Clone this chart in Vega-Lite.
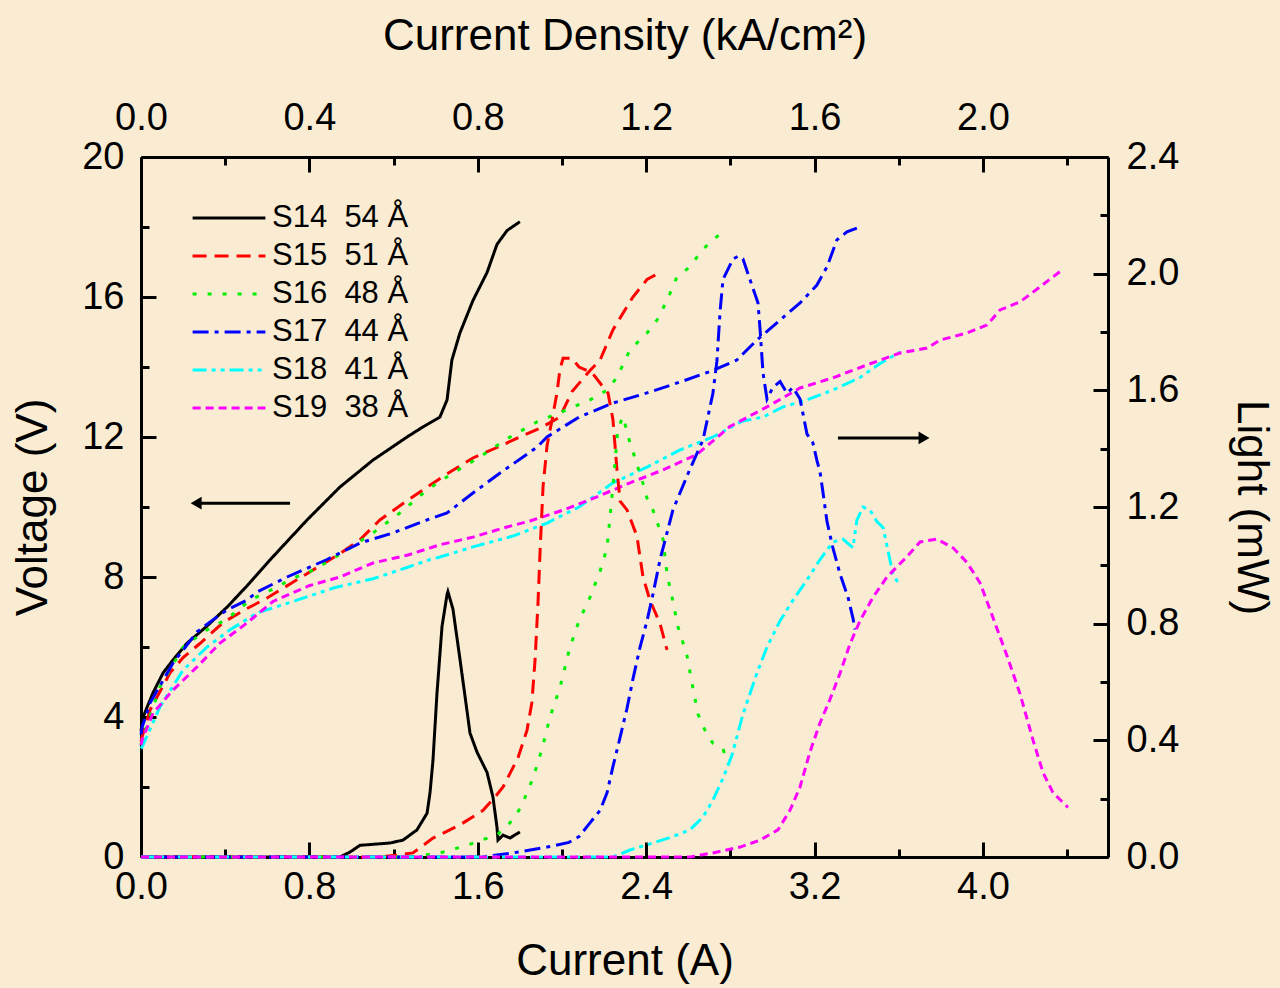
{
  "$schema": "https://vega.github.io/schema/vega-lite/v6.json",
  "width": 967,
  "height": 700,
  "autosize": {"type": "none"},
  "padding": {"left": 141, "top": 157, "right": 172, "bottom": 131},
  "background": "#f9ecd3",
  "config": {
    "view": {"stroke": null},
    "font": "Liberation Sans",
    "axis": {
      "domainColor": "black", "domainWidth": 3, "tickColor": "black", "tickWidth": 3,
      "grid": false, "labelFont": "Liberation Sans", "labelFontSize": 38, "labelColor": "black",
      "titleFont": "Liberation Sans", "titleFontSize": 44, "titleFontWeight": "normal", "titleColor": "black",
      "labelFlush": false, "labelOverlap": false, "labelBound": false
    }
  },
  "datasets": {
    "samples": [
      {"s": "S14", "label": "S14\u00a0\u00a054\u00a0Å"},
      {"s": "S15", "label": "S15\u00a0\u00a051\u00a0Å"},
      {"s": "S16", "label": "S16\u00a0\u00a048\u00a0Å"},
      {"s": "S17", "label": "S17\u00a0\u00a044\u00a0Å"},
      {"s": "S18", "label": "S18\u00a0\u00a041\u00a0Å"},
      {"s": "S19", "label": "S19\u00a0\u00a038\u00a0Å"}
    ],
    "voltage": [
      {"s":"S14","I":0,"V":3.6},{"s":"S14","I":0.01,"V":4.0},{"s":"S14","I":0.057,"V":4.69},{"s":"S14","I":0.105,"V":5.26},{"s":"S14","I":0.152,"V":5.63},{"s":"S14","I":0.219,"V":6.11},{"s":"S14","I":0.314,"V":6.6},{"s":"S14","I":0.409,"V":7.14},{"s":"S14","I":0.504,"V":7.75},{"s":"S14","I":0.627,"V":8.58},{"s":"S14","I":0.789,"V":9.63},{"s":"S14","I":0.945,"V":10.57},{"s":"S14","I":1.102,"V":11.34},{"s":"S14","I":1.264,"V":12.0},{"s":"S14","I":1.34,"V":12.29},{"s":"S14","I":1.42,"V":12.57},{"s":"S14","I":1.454,"V":13.06},{"s":"S14","I":1.477,"V":14.2},{"s":"S14","I":1.515,"V":14.97},{"s":"S14","I":1.577,"V":15.9},{"s":"S14","I":1.644,"V":16.7},{"s":"S14","I":1.691,"V":17.5},{"s":"S14","I":1.739,"V":17.9},{"s":"S14","I":1.8,"V":18.15},
      {"s":"S15","I":0,"V":3.3},{"s":"S15","I":0.005,"V":3.43},{"s":"S15","I":0.043,"V":4.2},{"s":"S15","I":0.138,"V":5.26},{"s":"S15","I":0.2,"V":5.7},{"s":"S15","I":0.28,"V":6.1},{"s":"S15","I":0.39,"V":6.7},{"s":"S15","I":0.504,"V":7.1},{"s":"S15","I":0.599,"V":7.4},{"s":"S15","I":0.708,"V":7.8},{"s":"S15","I":0.817,"V":8.2},{"s":"S15","I":0.945,"V":8.67},{"s":"S15","I":1.04,"V":9.06},{"s":"S15","I":1.135,"V":9.63},{"s":"S15","I":1.245,"V":10.1},{"s":"S15","I":1.359,"V":10.57},{"s":"S15","I":1.468,"V":11.0},{"s":"S15","I":1.577,"V":11.4},{"s":"S15","I":1.691,"V":11.7},{"s":"S15","I":1.8,"V":12.0},{"s":"S15","I":1.895,"V":12.25},{"s":"S15","I":1.99,"V":12.57},{"s":"S15","I":2.048,"V":13.3},{"s":"S15","I":2.133,"V":13.9},{"s":"S15","I":2.181,"V":14.2},{"s":"S15","I":2.242,"V":15.06},{"s":"S15","I":2.276,"V":15.4},{"s":"S15","I":2.337,"V":16.0},{"s":"S15","I":2.404,"V":16.5},{"s":"S15","I":2.466,"V":16.7},
      {"s":"S16","I":0,"V":3.2},{"s":"S16","I":0.005,"V":3.34},{"s":"S16","I":0.09,"V":4.86},{"s":"S16","I":0.2,"V":6.0},{"s":"S16","I":0.314,"V":6.49},{"s":"S16","I":0.409,"V":6.8},{"s":"S16","I":0.518,"V":7.34},{"s":"S16","I":0.646,"V":7.71},{"s":"S16","I":0.722,"V":7.97},{"s":"S16","I":0.789,"V":8.11},{"s":"S16","I":0.884,"V":8.43},{"s":"S16","I":0.979,"V":8.77},{"s":"S16","I":1.102,"V":9.26},{"s":"S16","I":1.23,"V":9.83},{"s":"S16","I":1.359,"V":10.49},{"s":"S16","I":1.482,"V":10.97},{"s":"S16","I":1.61,"V":11.43},{"s":"S16","I":1.739,"V":11.95},{"s":"S16","I":1.881,"V":12.43},{"s":"S16","I":2.019,"V":12.77},{"s":"S16","I":2.133,"V":13.06},{"s":"S16","I":2.214,"V":13.34},{"s":"S16","I":2.261,"V":13.7},{"s":"S16","I":2.323,"V":14.49},{"s":"S16","I":2.404,"V":14.97},{"s":"S16","I":2.451,"V":15.34},{"s":"S16","I":2.499,"V":15.9},{"s":"S16","I":2.546,"V":16.57},{"s":"S16","I":2.608,"V":16.86},{"s":"S16","I":2.656,"V":17.26},{"s":"S16","I":2.703,"V":17.57},{"s":"S16","I":2.765,"V":17.86},
      {"s":"S17","I":0,"V":3.5},{"s":"S17","I":0.005,"V":3.7},{"s":"S17","I":0.043,"V":4.4},{"s":"S17","I":0.152,"V":5.54},{"s":"S17","I":0.266,"V":6.43},{"s":"S17","I":0.361,"V":6.86},{"s":"S17","I":0.409,"V":7.06},{"s":"S17","I":0.504,"V":7.34},{"s":"S17","I":0.551,"V":7.57},{"s":"S17","I":0.694,"V":8.0},{"s":"S17","I":0.884,"V":8.5},{"s":"S17","I":1.04,"V":8.97},{"s":"S17","I":1.197,"V":9.26},{"s":"S17","I":1.359,"V":9.63},{"s":"S17","I":1.454,"V":9.83},{"s":"S17","I":1.577,"V":10.4},{"s":"S17","I":1.706,"V":10.97},{"s":"S17","I":1.815,"V":11.43},{"s":"S17","I":1.881,"V":11.71},{"s":"S17","I":1.929,"V":12.0},{"s":"S17","I":2.081,"V":12.57},{"s":"S17","I":2.242,"V":12.97},{"s":"S17","I":2.404,"V":13.26},{"s":"S17","I":2.561,"V":13.57},{"s":"S17","I":2.717,"V":13.9},{"s":"S17","I":2.831,"V":14.2},{"s":"S17","I":2.926,"V":14.77},{"s":"S17","I":3.036,"V":15.34},{"s":"S17","I":3.131,"V":15.83},{"s":"S17","I":3.211,"V":16.34},{"s":"S17","I":3.259,"V":16.86},{"s":"S17","I":3.306,"V":17.63},{"s":"S17","I":3.354,"V":17.86},{"s":"S17","I":3.401,"V":17.97},
      {"s":"S18","I":0,"V":3.1},{"s":"S18","I":0.005,"V":3.14},{"s":"S18","I":0.09,"V":4.29},{"s":"S18","I":0.2,"V":5.34},{"s":"S18","I":0.314,"V":6.0},{"s":"S18","I":0.423,"V":6.49},{"s":"S18","I":0.551,"V":6.97},{"s":"S18","I":0.722,"V":7.3},{"s":"S18","I":0.922,"V":7.7},{"s":"S18","I":1.102,"V":7.95},{"s":"S18","I":1.264,"V":8.27},{"s":"S18","I":1.373,"V":8.5},{"s":"S18","I":1.42,"V":8.57},{"s":"S18","I":1.577,"V":8.86},{"s":"S18","I":1.767,"V":9.17},{"s":"S18","I":1.929,"V":9.54},{"s":"S18","I":2.081,"V":10.0},{"s":"S18","I":2.242,"V":10.69},{"s":"S18","I":2.404,"V":11.14},{"s":"S18","I":2.561,"V":11.63},{"s":"S18","I":2.717,"V":12.0},{"s":"S18","I":2.855,"V":12.45},{"s":"S18","I":2.955,"V":12.57},{"s":"S18","I":3.05,"V":12.86},{"s":"S18","I":3.164,"V":13.06},{"s":"S18","I":3.287,"V":13.34},{"s":"S18","I":3.416,"V":13.7},{"s":"S18","I":3.511,"V":14.1},{"s":"S18","I":3.606,"V":14.43},
      {"s":"S19","I":0,"V":3.2},{"s":"S19","I":0.005,"V":3.34},{"s":"S19","I":0.057,"V":4.11},{"s":"S19","I":0.152,"V":4.77},{"s":"S19","I":0.266,"V":5.43},{"s":"S19","I":0.375,"V":6.11},{"s":"S19","I":0.504,"V":6.69},{"s":"S19","I":0.627,"V":7.3},{"s":"S19","I":0.798,"V":7.75},{"s":"S19","I":0.945,"V":8.0},{"s":"S19","I":1.102,"V":8.4},{"s":"S19","I":1.264,"V":8.62},{"s":"S19","I":1.42,"V":8.92},{"s":"S19","I":1.577,"V":9.14},{"s":"S19","I":1.739,"V":9.43},{"s":"S19","I":1.848,"V":9.6},{"s":"S19","I":2.005,"V":9.91},{"s":"S19","I":2.166,"V":10.29},{"s":"S19","I":2.323,"V":10.69},{"s":"S19","I":2.48,"V":11.06},{"s":"S19","I":2.641,"V":11.5},{"s":"S19","I":2.798,"V":12.3},{"s":"S19","I":2.974,"V":12.86},{"s":"S19","I":3.131,"V":13.4},{"s":"S19","I":3.287,"V":13.69},{"s":"S19","I":3.449,"V":14.06},{"s":"S19","I":3.606,"V":14.4},{"s":"S19","I":3.734,"V":14.54},{"s":"S19","I":3.796,"V":14.77},{"s":"S19","I":3.924,"V":14.97},{"s":"S19","I":4.019,"V":15.2},{"s":"S19","I":4.081,"V":15.63},{"s":"S19","I":4.176,"V":15.86},{"s":"S19","I":4.271,"V":16.29},{"s":"S19","I":4.375,"V":16.77}
    ],
    "light": [
      {"s":"S14","I":0,"L":0},{"s":"S14","I":0.945,"L":0},{"s":"S14","I":0.993,"L":0.017},{"s":"S14","I":1.04,"L":0.04},{"s":"S14","I":1.183,"L":0.048},{"s":"S14","I":1.245,"L":0.058},{"s":"S14","I":1.311,"L":0.093},{"s":"S14","I":1.359,"L":0.15},{"s":"S14","I":1.373,"L":0.22},{"s":"S14","I":1.387,"L":0.33},{"s":"S14","I":1.406,"L":0.56},{"s":"S14","I":1.43,"L":0.79},{"s":"S14","I":1.454,"L":0.9},{"s":"S14","I":1.458,"L":0.91},{"s":"S14","I":1.482,"L":0.85},{"s":"S14","I":1.515,"L":0.68},{"s":"S14","I":1.549,"L":0.5},{"s":"S14","I":1.563,"L":0.425},{"s":"S14","I":1.596,"L":0.36},{"s":"S14","I":1.644,"L":0.29},{"s":"S14","I":1.672,"L":0.206},{"s":"S14","I":1.691,"L":0.103},{"s":"S14","I":1.696,"L":0.058},{"s":"S14","I":1.72,"L":0.075},{"s":"S14","I":1.753,"L":0.065},{"s":"S14","I":1.8,"L":0.086},
      {"s":"S15","I":0,"L":0},{"s":"S15","I":1.135,"L":0},{"s":"S15","I":1.292,"L":0.014},{"s":"S15","I":1.387,"L":0.065},{"s":"S15","I":1.515,"L":0.11},{"s":"S15","I":1.625,"L":0.16},{"s":"S15","I":1.682,"L":0.206},{"s":"S15","I":1.72,"L":0.24},{"s":"S15","I":1.791,"L":0.34},{"s":"S15","I":1.834,"L":0.435},{"s":"S15","I":1.857,"L":0.53},{"s":"S15","I":1.872,"L":0.675},{"s":"S15","I":1.886,"L":0.87},{"s":"S15","I":1.896,"L":1.05},{"s":"S15","I":1.91,"L":1.27},{"s":"S15","I":1.929,"L":1.41},{"s":"S15","I":1.953,"L":1.5},{"s":"S15","I":1.976,"L":1.59},{"s":"S15","I":1.99,"L":1.67},{"s":"S15","I":2.005,"L":1.71},{"s":"S15","I":2.048,"L":1.71},{"s":"S15","I":2.081,"L":1.68},{"s":"S15","I":2.143,"L":1.66},{"s":"S15","I":2.219,"L":1.59},{"s":"S15","I":2.242,"L":1.5},{"s":"S15","I":2.261,"L":1.33},{"s":"S15","I":2.276,"L":1.22},{"s":"S15","I":2.309,"L":1.19},{"s":"S15","I":2.356,"L":1.1},{"s":"S15","I":2.385,"L":0.96},{"s":"S15","I":2.418,"L":0.88},{"s":"S15","I":2.466,"L":0.8},{"s":"S15","I":2.499,"L":0.71},
      {"s":"S16","I":0,"L":0},{"s":"S16","I":1.283,"L":0},{"s":"S16","I":1.42,"L":0.014},{"s":"S16","I":1.549,"L":0.04},{"s":"S16","I":1.625,"L":0.06},{"s":"S16","I":1.691,"L":0.075},{"s":"S16","I":1.753,"L":0.117},{"s":"S16","I":1.805,"L":0.17},{"s":"S16","I":1.862,"L":0.27},{"s":"S16","I":1.905,"L":0.37},{"s":"S16","I":1.943,"L":0.48},{"s":"S16","I":1.99,"L":0.58},{"s":"S16","I":2.038,"L":0.72},{"s":"S16","I":2.081,"L":0.81},{"s":"S16","I":2.133,"L":0.89},{"s":"S16","I":2.181,"L":0.98},{"s":"S16","I":2.214,"L":1.06},{"s":"S16","I":2.242,"L":1.27},{"s":"S16","I":2.266,"L":1.47},{"s":"S16","I":2.29,"L":1.51},{"s":"S16","I":2.323,"L":1.42},{"s":"S16","I":2.337,"L":1.39},{"s":"S16","I":2.385,"L":1.28},{"s":"S16","I":2.404,"L":1.23},{"s":"S16","I":2.432,"L":1.19},{"s":"S16","I":2.48,"L":1.09},{"s":"S16","I":2.499,"L":0.97},{"s":"S16","I":2.523,"L":0.89},{"s":"S16","I":2.551,"L":0.79},{"s":"S16","I":2.594,"L":0.69},{"s":"S16","I":2.622,"L":0.58},{"s":"S16","I":2.646,"L":0.49},{"s":"S16","I":2.679,"L":0.435},{"s":"S16","I":2.717,"L":0.39},{"s":"S16","I":2.765,"L":0.37},{"s":"S16","I":2.789,"L":0.32},
      {"s":"S17","I":0,"L":0},{"s":"S17","I":1.61,"L":0},{"s":"S17","I":1.767,"L":0.014},{"s":"S17","I":1.929,"L":0.034},{"s":"S17","I":2.033,"L":0.05},{"s":"S17","I":2.081,"L":0.07},{"s":"S17","I":2.133,"L":0.117},{"s":"S17","I":2.181,"L":0.16},{"s":"S17","I":2.214,"L":0.22},{"s":"S17","I":2.242,"L":0.31},{"s":"S17","I":2.276,"L":0.41},{"s":"S17","I":2.309,"L":0.51},{"s":"S17","I":2.337,"L":0.61},{"s":"S17","I":2.371,"L":0.72},{"s":"S17","I":2.404,"L":0.81},{"s":"S17","I":2.432,"L":0.9},{"s":"S17","I":2.466,"L":1.02},{"s":"S17","I":2.527,"L":1.19},{"s":"S17","I":2.608,"L":1.33},{"s":"S17","I":2.67,"L":1.43},{"s":"S17","I":2.717,"L":1.59},{"s":"S17","I":2.736,"L":1.7},{"s":"S17","I":2.751,"L":1.87},{"s":"S17","I":2.765,"L":1.98},{"s":"S17","I":2.812,"L":2.05},{"s":"S17","I":2.836,"L":2.06},{"s":"S17","I":2.86,"L":2.05},{"s":"S17","I":2.907,"L":1.95},{"s":"S17","I":2.931,"L":1.9},{"s":"S17","I":2.941,"L":1.81},{"s":"S17","I":2.955,"L":1.66},{"s":"S17","I":2.974,"L":1.57},{"s":"S17","I":3.002,"L":1.61},{"s":"S17","I":3.036,"L":1.63},{"s":"S17","I":3.069,"L":1.59},{"s":"S17","I":3.097,"L":1.61},{"s":"S17","I":3.131,"L":1.57},{"s":"S17","I":3.164,"L":1.45},{"s":"S17","I":3.192,"L":1.42},{"s":"S17","I":3.211,"L":1.36},{"s":"S17","I":3.226,"L":1.32},{"s":"S17","I":3.24,"L":1.25},{"s":"S17","I":3.259,"L":1.15},{"s":"S17","I":3.287,"L":1.06},{"s":"S17","I":3.321,"L":0.97},{"s":"S17","I":3.359,"L":0.89},{"s":"S17","I":3.382,"L":0.82},{"s":"S17","I":3.392,"L":0.78},
      {"s":"S18","I":0,"L":0},{"s":"S18","I":2.242,"L":0},{"s":"S18","I":2.323,"L":0.024},{"s":"S18","I":2.432,"L":0.048},{"s":"S18","I":2.527,"L":0.07},{"s":"S18","I":2.608,"L":0.093},{"s":"S18","I":2.67,"L":0.137},{"s":"S18","I":2.717,"L":0.195},{"s":"S18","I":2.765,"L":0.27},{"s":"S18","I":2.808,"L":0.35},{"s":"S18","I":2.86,"L":0.49},{"s":"S18","I":2.893,"L":0.56},{"s":"S18","I":2.926,"L":0.63},{"s":"S18","I":2.974,"L":0.72},{"s":"S18","I":3.036,"L":0.81},{"s":"S18","I":3.097,"L":0.88},{"s":"S18","I":3.164,"L":0.95},{"s":"S18","I":3.226,"L":1.02},{"s":"S18","I":3.287,"L":1.08},{"s":"S18","I":3.335,"L":1.09},{"s":"S18","I":3.382,"L":1.06},{"s":"S18","I":3.401,"L":1.155},{"s":"S18","I":3.43,"L":1.2},{"s":"S18","I":3.463,"L":1.19},{"s":"S18","I":3.496,"L":1.15},{"s":"S18","I":3.525,"L":1.13},{"s":"S18","I":3.549,"L":1.05},{"s":"S18","I":3.572,"L":0.97},{"s":"S18","I":3.606,"L":0.93},
      {"s":"S19","I":0,"L":0},{"s":"S19","I":2.608,"L":0},{"s":"S19","I":2.717,"L":0.014},{"s":"S19","I":2.846,"L":0.034},{"s":"S19","I":2.941,"L":0.058},{"s":"S19","I":3.026,"L":0.093},{"s":"S19","I":3.083,"L":0.16},{"s":"S19","I":3.131,"L":0.24},{"s":"S19","I":3.178,"L":0.36},{"s":"S19","I":3.226,"L":0.46},{"s":"S19","I":3.273,"L":0.54},{"s":"S19","I":3.321,"L":0.63},{"s":"S19","I":3.368,"L":0.73},{"s":"S19","I":3.416,"L":0.81},{"s":"S19","I":3.477,"L":0.89},{"s":"S19","I":3.544,"L":0.96},{"s":"S19","I":3.639,"L":1.03},{"s":"S19","I":3.701,"L":1.08},{"s":"S19","I":3.781,"L":1.09},{"s":"S19","I":3.858,"L":1.06},{"s":"S19","I":3.924,"L":1.01},{"s":"S19","I":3.986,"L":0.94},{"s":"S19","I":4.048,"L":0.82},{"s":"S19","I":4.114,"L":0.69},{"s":"S19","I":4.176,"L":0.56},{"s":"S19","I":4.238,"L":0.4},{"s":"S19","I":4.285,"L":0.29},{"s":"S19","I":4.333,"L":0.22},{"s":"S19","I":4.404,"L":0.17}
    ],
    "arrowV": [{"tail": 0.708, "head": 0.262, "V": 10.11}],
    "arrowL": [{"tail": 3.311, "head": 3.72, "L": 1.437}]
  },
  "layer": [
    {
      "data": {"name": "voltage"},
      "transform": [{"lookup": "s", "from": {"data": {"name": "samples"}, "key": "s", "fields": ["label"]}}],
      "mark": {"type": "line", "strokeWidth": 3},
      "encoding": {
        "x": {"field": "I", "type": "quantitative", "scale": {"domain": [0, 4.594], "nice": false, "zero": false},
          "axis": {"orient": "bottom", "title": "Current (A)", "values": [0,0.4,0.8,1.2,1.6,2,2.4,2.8,3.2,3.6,4,4.4],
            "labelExpr": "round(datum.value*10) % 8 == 0 ? format(datum.value, '.1f') : ''",
            "tickSize": {"condition": {"test": "round(datum.value*10) % 8 == 0", "value": -15}, "value": -8},
            "labelPadding": 26, "titlePadding": 26}},
        "y": {"field": "V", "type": "quantitative", "scale": {"domain": [0, 20], "nice": false},
          "axis": {"orient": "left", "title": "Voltage (V)", "values": [0,2,4,6,8,10,12,14,16,18,20],
            "labelExpr": "datum.value % 4 == 0 ? datum.label : ''",
            "tickSize": {"condition": {"test": "datum.value % 4 == 0", "value": -15}, "value": -8},
            "labelPadding": 32, "titlePadding": 26}},
        "color": {"field": "label", "type": "nominal",
          "scale": {"domain": ["S14\u00a0\u00a054\u00a0Å","S15\u00a0\u00a051\u00a0Å","S16\u00a0\u00a048\u00a0Å","S17\u00a0\u00a044\u00a0Å","S18\u00a0\u00a041\u00a0Å","S19\u00a0\u00a038\u00a0Å"],
            "range": ["#000000","#ff0000","#00ee00","#0000ff","#00ffff","#ff00ff"]},
          "legend": {"title": null, "orient": "none", "legendX": 50, "legendY": 43, "symbolType": "stroke", "symbolSize": 5300, "symbolStrokeWidth": 3, "labelFontSize": 31, "labelFont": "Liberation Sans", "labelColor": "black", "labelOffset": 5, "rowPadding": 2, "clipHeight": 36, "padding": 0, "labelLimit": 400}},
        "strokeDash": {"field": "label", "type": "nominal",
          "scale": {"domain": ["S14\u00a0\u00a054\u00a0Å","S15\u00a0\u00a051\u00a0Å","S16\u00a0\u00a048\u00a0Å","S17\u00a0\u00a044\u00a0Å","S18\u00a0\u00a041\u00a0Å","S19\u00a0\u00a038\u00a0Å"],
            "range": [[1,0],[14,8],[4,11],[16,6,4,6],[14,5,4,5,4,5],[8,5]]},
          "legend": {"title": null, "orient": "none", "legendX": 50, "legendY": 43, "symbolType": "stroke", "symbolSize": 5300, "symbolStrokeWidth": 3, "labelFontSize": 31, "labelFont": "Liberation Sans", "labelColor": "black", "labelOffset": 5, "rowPadding": 2, "clipHeight": 36, "padding": 0, "labelLimit": 400}}
      }
    },
    {
      "data": {"name": "light"},
      "transform": [{"lookup": "s", "from": {"data": {"name": "samples"}, "key": "s", "fields": ["label"]}}],
      "mark": {"type": "line", "strokeWidth": 3},
      "encoding": {
        "x": {"field": "I", "type": "quantitative", "scale": {"domain": [0, 4.594], "nice": false, "zero": false}, "axis": null},
        "y": {"field": "L", "type": "quantitative", "scale": {"domain": [0, 2.4], "nice": false},
          "axis": {"orient": "right", "title": "Light (mW)", "values": [0,0.2,0.4,0.6,0.8,1,1.2,1.4,1.6,1.8,2,2.2,2.4],
            "labelExpr": "round(datum.value*10) % 4 == 0 ? format(datum.value, '.1f') : ''",
            "tickSize": {"condition": {"test": "round(datum.value*10) % 4 == 0", "value": -15}, "value": -8},
            "labelPadding": 33, "titlePadding": 50}},
        "color": {"field": "label", "type": "nominal"},
        "strokeDash": {"field": "label", "type": "nominal"}
      }
    },
    {
      "data": {"values": [{"D": 0}]},
      "mark": {"type": "point", "opacity": 0},
      "encoding": {
        "x": {"field": "D", "type": "quantitative", "scale": {"domain": [0, 2.297], "nice": false, "zero": false},
          "axis": {"orient": "top", "title": "Current Density (kA/cm²)", "values": [0,0.2,0.4,0.6,0.8,1,1.2,1.4,1.6,1.8,2,2.2],
            "labelExpr": "round(datum.value*10) % 4 == 0 ? format(datum.value, '.1f') : ''",
            "tickSize": {"condition": {"test": "round(datum.value*10) % 4 == 0", "value": -15}, "value": -8},
            "labelPadding": 35, "titlePadding": 34}}
      }
    },
    {
      "data": {"name": "arrowV"},
      "mark": {"type": "rule", "strokeWidth": 3, "color": "black"},
      "encoding": {
        "x": {"field": "tail", "type": "quantitative", "scale": {"domain": [0, 4.594], "nice": false, "zero": false}, "axis": null},
        "x2": {"field": "head"},
        "y": {"field": "V", "type": "quantitative", "scale": {"domain": [0, 20], "nice": false}, "axis": null}
      }
    },
    {
      "data": {"name": "arrowV"},
      "mark": {"type": "point", "shape": "triangle-left", "filled": true, "color": "black", "opacity": 1, "size": 160},
      "encoding": {
        "x": {"field": "head", "type": "quantitative", "scale": {"domain": [0, 4.594], "nice": false, "zero": false}, "axis": null},
        "y": {"field": "V", "type": "quantitative", "scale": {"domain": [0, 20], "nice": false}, "axis": null}
      }
    },
    {
      "data": {"name": "arrowL"},
      "mark": {"type": "rule", "strokeWidth": 3, "color": "black"},
      "encoding": {
        "x": {"field": "tail", "type": "quantitative", "scale": {"domain": [0, 4.594], "nice": false, "zero": false}, "axis": null},
        "x2": {"field": "head"},
        "y": {"field": "L", "type": "quantitative", "scale": {"domain": [0, 2.4], "nice": false}, "axis": null}
      }
    },
    {
      "data": {"name": "arrowL"},
      "mark": {"type": "point", "shape": "triangle-right", "filled": true, "color": "black", "opacity": 1, "size": 160},
      "encoding": {
        "x": {"field": "head", "type": "quantitative", "scale": {"domain": [0, 4.594], "nice": false, "zero": false}, "axis": null},
        "y": {"field": "L", "type": "quantitative", "scale": {"domain": [0, 2.4], "nice": false}, "axis": null}
      }
    }
  ],
  "resolve": {"scale": {"x": "independent", "y": "independent", "color": "shared", "strokeDash": "shared"}}
}
